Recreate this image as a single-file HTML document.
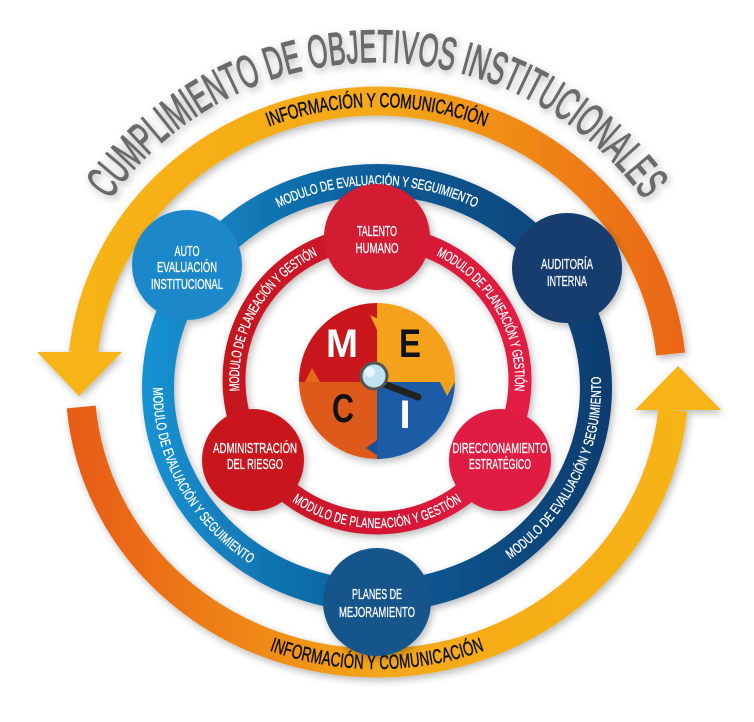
<!DOCTYPE html>
<html><head><meta charset="utf-8"><style>
html,body{margin:0;padding:0;background:#fff;}
svg{display:block;}
text{font-family:"Liberation Sans Narrow","Liberation Sans",sans-serif;}
</style></head><body>
<svg width="754" height="722" viewBox="0 0 754 722" xmlns="http://www.w3.org/2000/svg">
<defs>
<filter id="sh" x="-20%" y="-20%" width="140%" height="140%"><feDropShadow dx="2" dy="3" stdDeviation="4" flood-color="#000" flood-opacity="0.28"/></filter>
<linearGradient id="gTop" gradientUnits="userSpaceOnUse" x1="80" y1="0" x2="690" y2="0"><stop offset="0" stop-color="#f7b417"/><stop offset="0.5" stop-color="#f4a81a"/><stop offset="1" stop-color="#ea6315"/></linearGradient>
<linearGradient id="gBot" gradientUnits="userSpaceOnUse" x1="80" y1="0" x2="690" y2="0"><stop offset="0" stop-color="#e85d12"/><stop offset="0.5" stop-color="#f4a81a"/><stop offset="1" stop-color="#f7b417"/></linearGradient>
<linearGradient id="gBlue" gradientUnits="userSpaceOnUse" x1="140" y1="0" x2="615" y2="0"><stop offset="0" stop-color="#1693d3"/><stop offset="0.5" stop-color="#0d5c98"/><stop offset="1" stop-color="#0f3c6e"/></linearGradient>
<linearGradient id="gRed" gradientUnits="userSpaceOnUse" x1="230" y1="0" x2="525" y2="0"><stop offset="0" stop-color="#c5161f"/><stop offset="1" stop-color="#e31b44"/></linearGradient>
<path id="pTitle" d="M93,226 A328,328 0 0 1 661,226"/>
<path id="pOTop" d="M228.5,138.6 A297,281 0 0 1 525.5,138.6"/>
<path id="pOBot" d="M228.5,625.4 A297,281 0 0 0 525.5,625.4"/>
<path id="pBTop" d="M222,241 A219,208 0 0 1 532,241"/>
<path id="pBLeft" d="M161.3,352 A219,208 0 0 0 284.4,576.5"/>
<path id="pBRight" d="M469.6,576.5 A219,208 0 0 0 588.5,334.2"/>
<path id="pRTL" d="M238.9,417 A143,143 0 0 1 340,241.9"/>
<path id="pRTR" d="M414,241.9 A143,143 0 0 1 515.1,417"/>
<path id="pRBot" d="M275.9,481.1 A143,143 0 0 0 478.1,481.1"/>
<clipPath id="meci"><circle cx="377" cy="381" r="78"/></clipPath>
</defs>

<!-- title -->
<text font-size="46" fill="#6b6b6b" stroke="#6b6b6b" stroke-width="1.2" filter="url(#sh)"><textPath href="#pTitle" startOffset="50%" text-anchor="middle" textLength="625" lengthAdjust="spacingAndGlyphs">CUMPLIMIENTO DE OBJETIVOS INSTITUCIONALES</textPath></text>

<!-- orange ring -->
<g filter="url(#sh)">
<path d="M83.4,353 A297,281 0 0 1 377,101 A297,281 0 0 1 670.6,354" fill="none" stroke="url(#gTop)" stroke-width="29"/>
<polygon points="37,352 122,352 79,396" fill="#f7b417"/>
<path d="M81.2,407 A297,281 0 0 0 377,663 A297,281 0 0 0 672.8,410" fill="none" stroke="url(#gBot)" stroke-width="29"/>
<polygon points="635,410 721,410 678,366" fill="#f7b417"/>
</g>
<g font-size="20" fill="#111" stroke="#111" stroke-width="0.5" dominant-baseline="central">
<text><textPath href="#pOTop" startOffset="50%" text-anchor="middle" textLength="225" lengthAdjust="spacingAndGlyphs">INFORMACIÓN Y COMUNICACIÓN</textPath></text>
<text><textPath href="#pOBot" startOffset="50%" text-anchor="middle" textLength="215" lengthAdjust="spacingAndGlyphs">INFORMACIÓN Y COMUNICACIÓN</textPath></text>
</g>

<!-- blue ring -->
<g filter="url(#sh)">
<ellipse cx="377" cy="388" rx="219" ry="208" fill="none" stroke="url(#gBlue)" stroke-width="32"/>
<circle cx="187" cy="265" r="55" fill="#1a88c9"/>
<circle cx="567" cy="268" r="55" fill="#123d6d"/>
<circle cx="377" cy="602" r="54" fill="#16558c"/>
</g>
<g font-size="14" fill="#fff" stroke="#fff" stroke-width="0.3" dominant-baseline="central">
<text><textPath href="#pBTop" startOffset="50%" text-anchor="middle" textLength="208" lengthAdjust="spacingAndGlyphs">MODULO DE EVALUACIÓN Y SEGUIMIENTO</textPath></text>
<text><textPath href="#pBLeft" startOffset="50%" text-anchor="middle" textLength="205" lengthAdjust="spacingAndGlyphs">MODULO DE EVALUACIÓN Y SEGUIMIENTO</textPath></text>
<text><textPath href="#pBRight" startOffset="50%" text-anchor="middle" textLength="208" lengthAdjust="spacingAndGlyphs">MODULO DE EVALUACIÓN Y SEGUIMIENTO</textPath></text>
</g>

<!-- red ring -->
<g filter="url(#sh)">
<circle cx="377" cy="380" r="143" fill="none" stroke="url(#gRed)" stroke-width="23"/>
<circle cx="377" cy="237" r="53" fill="#d31a31"/>
<circle cx="253" cy="460" r="51" fill="#c8171f"/>
<circle cx="500" cy="460" r="51" fill="#e01b43"/>
</g>
<g font-size="14" fill="#fff" stroke="#fff" stroke-width="0.3" dominant-baseline="central">
<text><textPath href="#pRTL" startOffset="50%" text-anchor="middle" textLength="172" lengthAdjust="spacingAndGlyphs">MODULO DE PLANEACIÓN Y GESTIÓN</textPath></text>
<text><textPath href="#pRTR" startOffset="50%" text-anchor="middle" textLength="172" lengthAdjust="spacingAndGlyphs">MODULO DE PLANEACIÓN Y GESTIÓN</textPath></text>
<text><textPath href="#pRBot" startOffset="50%" text-anchor="middle" textLength="175" lengthAdjust="spacingAndGlyphs">MODULO DE PLANEACIÓN Y GESTIÓN</textPath></text>
</g>

<!-- node labels -->
<g font-size="15" fill="#fff" stroke="#fff" stroke-width="0.3" text-anchor="middle">
<text x="377" y="236" textLength="40" lengthAdjust="spacingAndGlyphs">TALENTO</text>
<text x="377" y="253" textLength="43" lengthAdjust="spacingAndGlyphs">HUMANO</text>
<text x="187" y="256" textLength="25" lengthAdjust="spacingAndGlyphs">AUTO</text>
<text x="187" y="272" textLength="60" lengthAdjust="spacingAndGlyphs">EVALUACIÓN</text>
<text x="187" y="289" textLength="72" lengthAdjust="spacingAndGlyphs">INSTITUCIONAL</text>
<text x="567" y="269" textLength="52" lengthAdjust="spacingAndGlyphs">AUDITORÍA</text>
<text x="567" y="286" textLength="40" lengthAdjust="spacingAndGlyphs">INTERNA</text>
<text x="255" y="453" textLength="84" lengthAdjust="spacingAndGlyphs">ADMINISTRACIÓN</text>
<text x="255" y="469" textLength="56" lengthAdjust="spacingAndGlyphs">DEL RIESGO</text>
<text x="500" y="453" textLength="95" lengthAdjust="spacingAndGlyphs">DIRECCIONAMIENTO</text>
<text x="500" y="469" textLength="62" lengthAdjust="spacingAndGlyphs">ESTRATÉGICO</text>
<text x="377" y="599" textLength="50" lengthAdjust="spacingAndGlyphs">PLANES DE</text>
<text x="377" y="617" textLength="76" lengthAdjust="spacingAndGlyphs">MEJORAMIENTO</text>
</g>

<!-- MECI -->
<g filter="url(#sh)">
<circle cx="377" cy="381" r="78" fill="#eee"/>
</g>
<g clip-path="url(#meci)">
<rect x="299" y="303" width="78" height="79" fill="#c9161c"/>
<rect x="377" y="303" width="78" height="79" fill="#f4a21b"/>
<rect x="299" y="382" width="78" height="78" fill="#de5a1a"/>
<rect x="377" y="382" width="78" height="78" fill="#1c5ba5"/>
<polygon points="370,315 384,322 377,330" fill="#f4a21b"/>
<polygon points="305,382 312,368 320,382" fill="#e36a1a"/>
<polygon points="440,382 447,396 455,382" fill="#f1a01b"/>
<polygon points="377,440 366,448 377,455" fill="#1c4f92"/>
</g>
<g font-family="'Liberation Sans',sans-serif" font-weight="bold" font-size="40" text-anchor="middle">
<text x="342" y="357" fill="#fff" textLength="32" lengthAdjust="spacingAndGlyphs">M</text>
<text x="410" y="357" fill="#111" textLength="22" lengthAdjust="spacingAndGlyphs">E</text>
<text x="343" y="422" fill="#111" textLength="22" lengthAdjust="spacingAndGlyphs">C</text>
<text x="405" y="428" fill="#fff">I</text>
</g>
<line x1="384" y1="384" x2="418" y2="397" stroke="#222" stroke-width="7" stroke-linecap="round"/>
<circle cx="374" cy="376" r="13" fill="#bfe3f2" stroke="#555" stroke-width="3"/>
<circle cx="370" cy="372" r="5" fill="#fff" opacity="0.7"/>
</svg>
</body></html>
